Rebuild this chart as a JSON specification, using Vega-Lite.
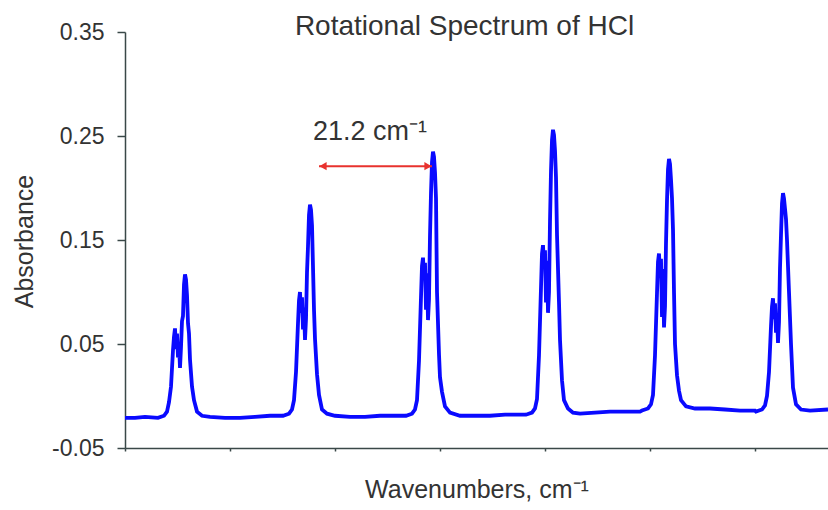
{
  "$schema": "https://vega.github.io/schema/vega-lite/v6.json",
  "width": 703,
  "height": 416,
  "autosize": {"type": "none"},
  "padding": {"left": 125, "top": 32, "right": 0, "bottom": 62},
  "background": "white",
  "title": {
    "text": "Rotational Spectrum of HCl",
    "fontSize": 28,
    "font": "Liberation Sans",
    "fontWeight": "normal",
    "color": "#333333",
    "anchor": "middle",
    "baseline": "alphabetic",
    "dx": -12,
    "dy": 42,
    "offset": 0
  },
  "config": {
    "view": {"stroke": null},
    "font": "Liberation Sans",
    "axis": {
      "grid": false,
      "domainColor": "#3a4848",
      "tickColor": "#3a4848",
      "domainWidth": 1.5,
      "tickWidth": 1.5,
      "labelColor": "#333333",
      "titleColor": "#333333",
      "labelFont": "Liberation Sans",
      "titleFont": "Liberation Sans",
      "titleFontWeight": "normal"
    }
  },
  "datasets": {
    "spectrum": [
      {"wn": 0, "abs": -0.021}, {"wn": 2, "abs": -0.021}, {"wn": 4, "abs": -0.020},
      {"wn": 6.6, "abs": -0.021}, {"wn": 7.8, "abs": -0.019}, {"wn": 8.4, "abs": -0.015}, {"wn": 8.8, "abs": -0.006},
      {"wn": 9.2, "abs": 0.009}, {"wn": 9.6, "abs": 0.044}, {"wn": 9.8, "abs": 0.057}, {"wn": 10.0, "abs": 0.065},
      {"wn": 10.2, "abs": 0.045}, {"wn": 10.4, "abs": 0.060}, {"wn": 10.6, "abs": 0.037}, {"wn": 10.8, "abs": 0.050},
      {"wn": 11.0, "abs": 0.027}, {"wn": 11.2, "abs": 0.047}, {"wn": 11.4, "abs": 0.072}, {"wn": 11.6, "abs": 0.077},
      {"wn": 11.8, "abs": 0.107}, {"wn": 12.0, "abs": 0.117}, {"wn": 12.2, "abs": 0.112}, {"wn": 12.4, "abs": 0.097},
      {"wn": 12.6, "abs": 0.070}, {"wn": 12.8, "abs": 0.060}, {"wn": 13.0, "abs": 0.035}, {"wn": 13.4, "abs": 0.009},
      {"wn": 13.8, "abs": -0.004}, {"wn": 14.4, "abs": -0.015}, {"wn": 15.4, "abs": -0.019},
      {"wn": 17, "abs": -0.020}, {"wn": 20, "abs": -0.021}, {"wn": 23, "abs": -0.021}, {"wn": 26, "abs": -0.020}, {"wn": 29, "abs": -0.019},
      {"wn": 31.6, "abs": -0.019}, {"wn": 32.8, "abs": -0.017}, {"wn": 33.4, "abs": -0.013}, {"wn": 33.8, "abs": -0.004},
      {"wn": 34.2, "abs": 0.023}, {"wn": 34.6, "abs": 0.070}, {"wn": 34.8, "abs": 0.092}, {"wn": 35.0, "abs": 0.100},
      {"wn": 35.2, "abs": 0.080}, {"wn": 35.4, "abs": 0.095}, {"wn": 35.6, "abs": 0.064}, {"wn": 35.8, "abs": 0.085},
      {"wn": 36.0, "abs": 0.054}, {"wn": 36.2, "abs": 0.074}, {"wn": 36.4, "abs": 0.119}, {"wn": 36.6, "abs": 0.144},
      {"wn": 36.8, "abs": 0.174}, {"wn": 37.0, "abs": 0.184}, {"wn": 37.2, "abs": 0.179}, {"wn": 37.4, "abs": 0.164},
      {"wn": 37.6, "abs": 0.124}, {"wn": 37.8, "abs": 0.083}, {"wn": 38.0, "abs": 0.055}, {"wn": 38.4, "abs": 0.021},
      {"wn": 38.8, "abs": 0.001}, {"wn": 39.4, "abs": -0.013}, {"wn": 40.4, "abs": -0.017},
      {"wn": 42, "abs": -0.019}, {"wn": 45, "abs": -0.020}, {"wn": 48, "abs": -0.020}, {"wn": 51, "abs": -0.019}, {"wn": 54, "abs": -0.019},
      {"wn": 56.2, "abs": -0.019}, {"wn": 57.4, "abs": -0.017}, {"wn": 58.0, "abs": -0.013}, {"wn": 58.4, "abs": -0.004},
      {"wn": 58.8, "abs": 0.034}, {"wn": 59.2, "abs": 0.095}, {"wn": 59.4, "abs": 0.125}, {"wn": 59.6, "abs": 0.133},
      {"wn": 59.8, "abs": 0.113}, {"wn": 60.0, "abs": 0.128}, {"wn": 60.2, "abs": 0.083}, {"wn": 60.4, "abs": 0.118},
      {"wn": 60.6, "abs": 0.073}, {"wn": 60.8, "abs": 0.093}, {"wn": 61.0, "abs": 0.154}, {"wn": 61.2, "abs": 0.195},
      {"wn": 61.4, "abs": 0.225}, {"wn": 61.6, "abs": 0.235}, {"wn": 61.8, "abs": 0.230}, {"wn": 62.0, "abs": 0.215},
      {"wn": 62.2, "abs": 0.190}, {"wn": 62.4, "abs": 0.100}, {"wn": 62.8, "abs": 0.040}, {"wn": 63.0, "abs": 0.018},
      {"wn": 63.4, "abs": 0.004}, {"wn": 64.0, "abs": -0.010}, {"wn": 65.0, "abs": -0.016},
      {"wn": 67, "abs": -0.019}, {"wn": 70, "abs": -0.019}, {"wn": 73, "abs": -0.019}, {"wn": 76, "abs": -0.018}, {"wn": 79, "abs": -0.018},
      {"wn": 80.2, "abs": -0.018}, {"wn": 81.4, "abs": -0.016}, {"wn": 82.0, "abs": -0.012}, {"wn": 82.4, "abs": -0.003},
      {"wn": 82.8, "abs": 0.039}, {"wn": 83.2, "abs": 0.104}, {"wn": 83.4, "abs": 0.137}, {"wn": 83.6, "abs": 0.145},
      {"wn": 83.8, "abs": 0.125}, {"wn": 84.0, "abs": 0.140}, {"wn": 84.2, "abs": 0.090}, {"wn": 84.4, "abs": 0.130},
      {"wn": 84.6, "abs": 0.080}, {"wn": 84.8, "abs": 0.100}, {"wn": 85.0, "abs": 0.168}, {"wn": 85.2, "abs": 0.216},
      {"wn": 85.4, "abs": 0.246}, {"wn": 85.6, "abs": 0.256}, {"wn": 85.8, "abs": 0.251}, {"wn": 86.0, "abs": 0.236},
      {"wn": 86.2, "abs": 0.210}, {"wn": 86.4, "abs": 0.155}, {"wn": 86.8, "abs": 0.090}, {"wn": 87.0, "abs": 0.054},
      {"wn": 87.4, "abs": 0.015}, {"wn": 87.8, "abs": -0.004}, {"wn": 88.6, "abs": -0.012}, {"wn": 89.6, "abs": -0.016},
      {"wn": 91, "abs": -0.017}, {"wn": 94, "abs": -0.016}, {"wn": 97, "abs": -0.015}, {"wn": 100, "abs": -0.015}, {"wn": 103, "abs": -0.015},
      {"wn": 103.4, "abs": -0.014}, {"wn": 104.6, "abs": -0.012}, {"wn": 105.2, "abs": -0.008}, {"wn": 105.6, "abs": 0.001},
      {"wn": 106.0, "abs": 0.039}, {"wn": 106.4, "abs": 0.099}, {"wn": 106.6, "abs": 0.129}, {"wn": 106.8, "abs": 0.137},
      {"wn": 107.0, "abs": 0.117}, {"wn": 107.2, "abs": 0.132}, {"wn": 107.4, "abs": 0.076}, {"wn": 107.6, "abs": 0.122},
      {"wn": 107.8, "abs": 0.066}, {"wn": 108.0, "abs": 0.086}, {"wn": 108.2, "abs": 0.147}, {"wn": 108.4, "abs": 0.188},
      {"wn": 108.6, "abs": 0.218}, {"wn": 108.8, "abs": 0.228}, {"wn": 109.0, "abs": 0.223}, {"wn": 109.2, "abs": 0.208},
      {"wn": 109.4, "abs": 0.190}, {"wn": 109.6, "abs": 0.160}, {"wn": 109.8, "abs": 0.100}, {"wn": 110.0, "abs": 0.050},
      {"wn": 110.4, "abs": 0.020}, {"wn": 110.8, "abs": 0.005}, {"wn": 111.2, "abs": -0.004}, {"wn": 112.2, "abs": -0.010},
      {"wn": 114, "abs": -0.012}, {"wn": 117, "abs": -0.012}, {"wn": 120, "abs": -0.013}, {"wn": 123, "abs": -0.014}, {"wn": 126, "abs": -0.014},
      {"wn": 126.2, "abs": -0.015}, {"wn": 127.4, "abs": -0.013}, {"wn": 128.0, "abs": -0.009}, {"wn": 128.4, "abs": 0.000},
      {"wn": 128.8, "abs": 0.023}, {"wn": 129.2, "abs": 0.067}, {"wn": 129.4, "abs": 0.086}, {"wn": 129.6, "abs": 0.094},
      {"wn": 129.8, "abs": 0.074}, {"wn": 130.0, "abs": 0.089}, {"wn": 130.2, "abs": 0.061}, {"wn": 130.4, "abs": 0.079},
      {"wn": 130.6, "abs": 0.051}, {"wn": 130.8, "abs": 0.071}, {"wn": 131.0, "abs": 0.123}, {"wn": 131.2, "abs": 0.155},
      {"wn": 131.4, "abs": 0.185}, {"wn": 131.6, "abs": 0.195}, {"wn": 131.8, "abs": 0.190}, {"wn": 132.0, "abs": 0.180},
      {"wn": 132.2, "abs": 0.170}, {"wn": 132.4, "abs": 0.150}, {"wn": 132.8, "abs": 0.100}, {"wn": 133.2, "abs": 0.050},
      {"wn": 133.6, "abs": 0.008}, {"wn": 134.2, "abs": -0.008}, {"wn": 135.2, "abs": -0.013},
      {"wn": 137, "abs": -0.014}, {"wn": 140.6, "abs": -0.013}
    ],
    "arrow": [{"x1": 38.8, "x2": 61.4, "y": 0.221}],
    "heads": [{"x": 39.6, "y": 0.221, "end": "start"}, {"x": 60.6, "y": 0.221, "end": "end"}],
    "label": [{"x": 49, "y": 0.254, "text": "21.2 cm⁻¹"}]
  },
  "layer": [
    {
      "data": {"name": "spectrum"},
      "mark": {"type": "line", "color": "#0a0aff", "strokeWidth": 3.8, "clip": true},
      "encoding": {
        "x": {
          "field": "wn", "type": "quantitative",
          "scale": {"domain": [0, 140.6], "nice": false, "zero": false},
          "axis": {
            "values": [0, 21, 42, 63, 84, 105, 126],
            "labels": false,
            "tickSize": 3,
            "title": "Wavenumbers, cm⁻¹",
            "titleFontSize": 25,
            "titlePadding": 26
          }
        },
        "y": {
          "field": "abs", "type": "quantitative",
          "scale": {"domain": [-0.05, 0.35], "nice": false, "zero": false},
          "axis": {
            "values": [-0.05, 0.05, 0.15, 0.25, 0.35],
            "format": ".2f",
            "labelExpr": "replace(datum.label, '−', '-')",
            "labelFontSize": 23,
            "tickSize": 8,
            "labelPadding": 13,
            "title": "Absorbance",
            "titleFontSize": 25,
            "titleAngle": -90,
            "titleX": -101,
            "titleY": 209,
            "titleAlign": "center",
            "titleBaseline": "middle"
          }
        }
      }
    },
    {
      "data": {"name": "arrow"},
      "mark": {"type": "rule", "color": "#e8322e", "strokeWidth": 2},
      "encoding": {
        "x": {"field": "x1", "type": "quantitative"},
        "x2": {"field": "x2"},
        "y": {"field": "y", "type": "quantitative"}
      }
    },
    {
      "data": {"name": "heads"},
      "mark": {"type": "point", "filled": true, "color": "#e8322e", "opacity": 1, "size": 70},
      "encoding": {
        "x": {"field": "x", "type": "quantitative"},
        "y": {"field": "y", "type": "quantitative"},
        "shape": {"field": "end", "type": "nominal", "scale": {"domain": ["start", "end"], "range": ["triangle-left", "triangle-right"]}, "legend": null}
      }
    },
    {
      "data": {"name": "label"},
      "mark": {"type": "text", "fontSize": 27, "color": "#333333", "align": "center", "baseline": "middle", "font": "Liberation Sans"},
      "encoding": {
        "x": {"field": "x", "type": "quantitative"},
        "y": {"field": "y", "type": "quantitative"},
        "text": {"field": "text"}
      }
    }
  ]
}
